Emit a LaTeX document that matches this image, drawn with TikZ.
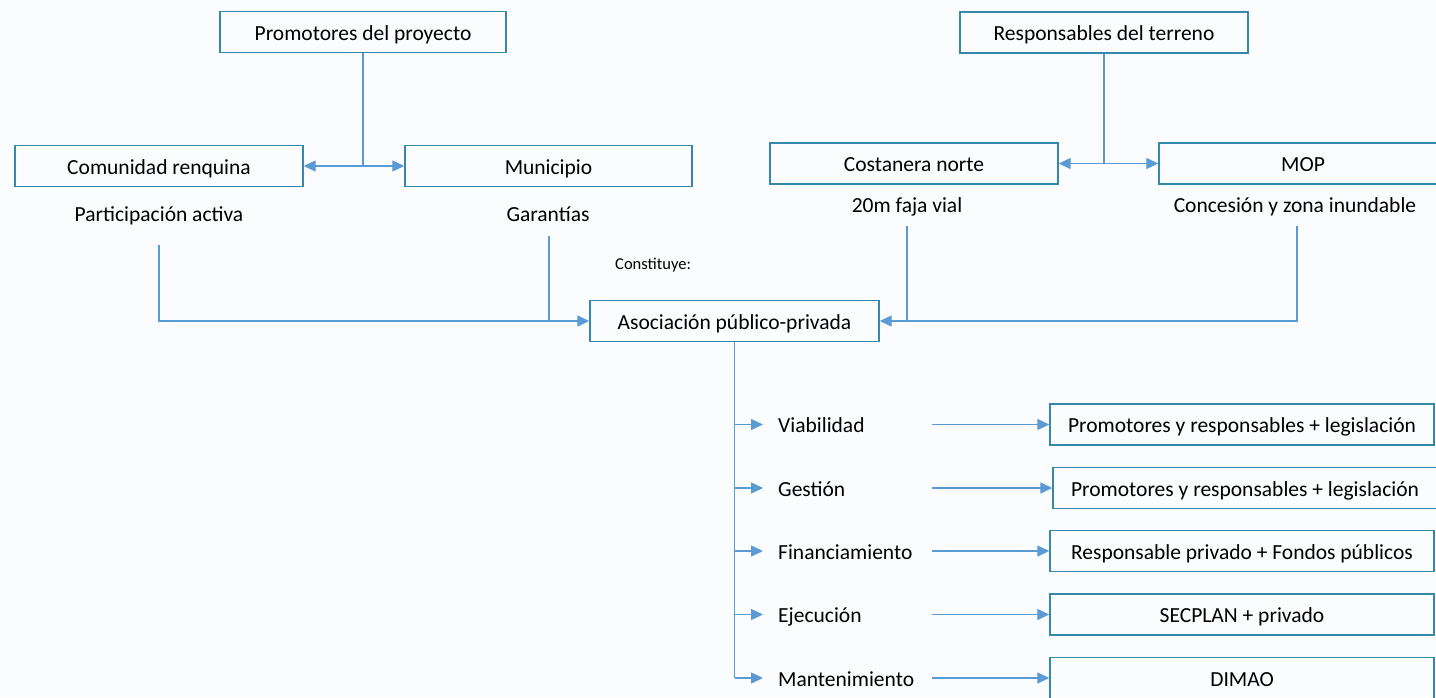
\documentclass[tikz,border=0pt]{standalone}
\usepackage{fontspec}
\setmainfont{Carlito}
\usetikzlibrary{arrows.meta}
\definecolor{boxc}{RGB}{52,136,170}
\definecolor{linec}{RGB}{91,155,213}
\definecolor{bgc}{RGB}{251,252,253}
\tikzset{
  bx/.style={draw=boxc, line width=1.4pt, minimum height=41pt, inner sep=0pt, text height=16pt, text depth=0pt, font=\fontsize{21.5}{24}\selectfont},
  lbl/.style={inner sep=0pt, text height=16pt, text depth=0pt, font=\fontsize{21.5}{24}\selectfont},
  conn/.style={draw=linec, line width=1.3pt},
  arr/.style={conn, -{Triangle[length=12pt,width=11pt]}},
  dbl/.style={conn, {Triangle[length=12pt,width=11pt]}-{Triangle[length=12pt,width=11pt]}},
}
\begin{document}
\begin{tikzpicture}[x=1pt,y=-1pt]
\useasboundingbox (0,0) rectangle (1436,697);
\fill[bgc] (0,0) rectangle (1436,697);
% top level
\node[bx, minimum width=286pt] (prom) at (363,32) {Promotores del proyecto};
\node[bx, minimum width=288pt] (resp) at (1104,32.5) {Responsables del terreno};
\node[bx, minimum width=288pt] (com) at (159,166) {Comunidad renquina};
\node[bx, minimum width=287pt] (mun) at (548.5,166) {Municipio};
\node[bx, minimum width=288pt] (cos) at (914,163.5) {Costanera norte};
\node[bx, minimum width=288pt] (mop) at (1303,163.5) {MOP};
% sub labels
\node[lbl] (part) at (159,213) {Participación activa};
\node[lbl] (gar) at (548,213) {Garantías};
\node[lbl] (faja) at (907,204) {20m faja vial};
\node[lbl] (conc) at (1295,204) {Concesión y zona inundable};
\node[inner sep=0pt, anchor=west, font=\fontsize{16.5}{18}\selectfont] (const) at (615,265) {Constituye:};
% APP
\node[bx, minimum width=289pt] (app) at (734.5,321) {Asociación público-privada};
% connectors top
\draw[conn] (prom.south) -- (prom.south |- com.east);
\draw[dbl] (com.east) -- (mun.west);
\draw[conn] (resp.south) -- (resp.south |- cos.east);
\draw[dbl] (cos.east) -- (mop.west);
% to APP
\coordinate (p1) at (159,245);
\coordinate (g1) at (549,236);
\coordinate (f1) at (907,226);
\coordinate (c1) at (1297,226);
\draw[arr] (p1) |- (app.west);
\draw[conn] (g1) -- (g1 |- app.west);
\draw[arr] (c1) |- (app.east);
\draw[conn] (f1) -- (f1 |- app.east);
% branch labels
\node[lbl, anchor=west] (l1) at (778,424.5) {Viabilidad};
\node[lbl, anchor=west] (l2) at (778,488) {Gestión};
\node[lbl, anchor=west] (l3) at (778,551) {Financiamiento};
\node[lbl, anchor=west] (l4) at (778,614.5) {Ejecución};
\node[lbl, anchor=west] (l5) at (778,678) {Mantenimiento};
% right boxes
\node[bx, minimum width=384pt] (r1) at (1242,424.5) {Promotores y responsables + legislación};
\node[bx, minimum width=384pt] (r2) at (1245,488) {Promotores y responsables + legislación};
\node[bx, minimum width=384pt] (r3) at (1242,551) {Responsable privado + Fondos públicos};
\node[bx, minimum width=384pt] (r4) at (1242,614.5) {SECPLAN + privado};
\node[bx, minimum width=384pt] (r5) at (1242,678) {DIMAO};
% trunk
\draw[conn] (app.south) -- (app.south |- l5.west);
\foreach \i in {1,...,5}{
  \draw[arr] (app.south |- l\i.west) -- ([xshift=-15pt]l\i.west);
  \draw[arr] ([xshift=154pt]l\i.west) -- (r\i.west);
}
\end{tikzpicture}
\end{document}
